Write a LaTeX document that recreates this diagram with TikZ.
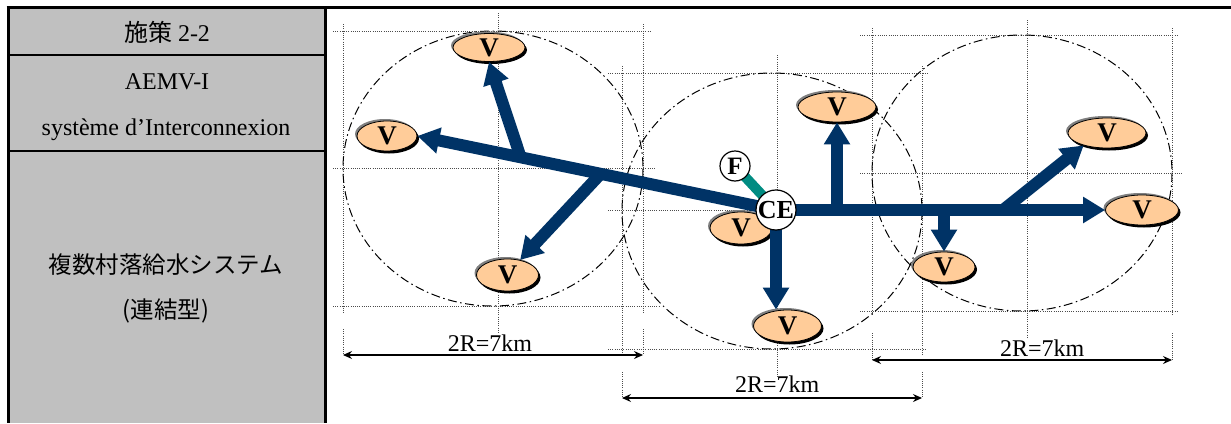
\documentclass[tikz,border=0pt]{standalone}
\usepackage{fontspec}
\setmainfont{Liberation Serif}
\newfontfamily\jpfont{Noto Sans CJK JP}
\usetikzlibrary{arrows.meta,shapes.geometric,shadows,calc}
\definecolor{pipeblue}{RGB}{0,51,102}
\definecolor{fteal}{RGB}{0,140,130}
\definecolor{vfill}{RGB}{255,204,153}
\definecolor{cellgray}{RGB}{192,192,192}
\pgfdeclarelayer{bg}
\pgfdeclarelayer{pipes}
\pgfdeclarelayer{top}
\pgfsetlayers{bg,main,pipes,top}
\begin{document}
\begin{tikzpicture}[x=1pt,y=-1pt,
  lbl/.style={inner sep=0pt, font=\fontsize{24}{28}\selectfont},
  jlbl/.style={inner sep=0pt, font=\jpfont\fontsize{23.5}{28}\selectfont},
  vnode/.style={ellipse, draw=black, line width=0.8pt, fill=vfill, inner sep=0pt,
     minimum height=30pt, font=\bfseries\fontsize{27}{27}\selectfont,
     general shadow={fill=black!50, shadow xshift=-2pt, shadow yshift=2pt},
     general shadow={fill=black, shadow xshift=2pt, shadow yshift=-2.5pt}},
  hub/.style={circle, draw=black, line width=1.2pt, fill=white, inner sep=0pt,
     font=\bfseries\fontsize{26}{26}\selectfont},
  pipe/.style={line width=12pt, draw=pipeblue, -{Triangle[length=22pt,width=25pt]}},
  dimline/.style={line width=1.1pt, {Stealth[length=9pt,width=8pt,inset=3pt]}-{Stealth[length=9pt,width=8pt,inset=3pt]}},
  guide/.style={draw=black!70, line width=0.8pt, dash pattern=on 1pt off 1.2pt},
  rim/.style={draw=black, line width=1pt, dash pattern=on 9pt off 3.5pt on 1.5pt off 3.5pt}]
\useasboundingbox (0,0) rectangle (1231,423);

% ---- left table ----
\fill[cellgray] (8,7.5) rectangle (325,423);
\draw[line width=3pt] (6.5,7.5) -- (1231,7.5);
\draw[line width=3pt] (8,6) -- (8,423);
\draw[line width=3pt] (325,6) -- (325,423);
\draw[line width=2.5pt] (8,55) -- (325,55);
\draw[line width=2.5pt] (8,151) -- (325,151);
\node[lbl, anchor=base] (t1) at (167,41.5) {{\jpfont 施策} 2-2};
\node[lbl, anchor=base] (t2) at (167,89.5) {AEMV-I};
\node[lbl, anchor=base] (t3) at (166,135) {système d’Interconnexion};
\node[jlbl] (t4) at (166,265) {複数村落給水システム};
\node[jlbl] (t5) at (166,311) {(連結型)};

% ---- guides, circles, dimensions ----
\begin{pgfonlayer}{bg}
% circle 1
\draw[guide] (333,31) -- (650,31);
\draw[guide] (333,306) -- (660,306);
\draw[guide] (333,168) -- (655,168);
\draw[guide] (343,24) -- (343,313);
\draw[guide] (643,24) -- (643,313);
\draw[guide] (498,13) -- (498,333);
\draw[guide] (343,329) -- (343,355);
\draw[guide] (643,329) -- (643,355);
% circle 2
\draw[guide] (608,73) -- (928,73);
\draw[guide] (608,349) -- (925,349);
\draw[guide] (608,210) -- (933,210);
\draw[guide] (622,66) -- (622,355);
\draw[guide] (922,66) -- (922,355);
\draw[guide] (777,55) -- (777,377);
\draw[guide] (622,372) -- (622,398);
\draw[guide] (922,372) -- (922,398);
% circle 3
\draw[guide] (860,35) -- (1178,35);
\draw[guide] (860,311) -- (1178,311);
\draw[guide] (860,173) -- (1183,173);
\draw[guide] (872,28) -- (872,316);
\draw[guide] (1172,28) -- (1172,316);
\draw[guide] (1027,20) -- (1027,338);
\draw[guide] (872,333) -- (872,360);
\draw[guide] (1172,333) -- (1172,360);
% circles
\draw[rim] (493,168.5) ellipse [x radius=150, y radius=137.5];
\draw[rim] (772,211) ellipse [x radius=150, y radius=138];
\draw[rim] (1022,173) ellipse [x radius=150, y radius=138];
% dimensions
\coordinate (d1a) at (343,355); \coordinate (d1b) at (643,355);
\coordinate (d2a) at (622,398); \coordinate (d2b) at (922,398);
\coordinate (d3a) at (872,360); \coordinate (d3b) at (1172,360);
\draw[dimline] (d1a) -- (d1b) node[lbl, pos=0.49, above=3pt] {2R=7km};
\draw[dimline] (d2a) -- (d2b) node[lbl, pos=0.517, above=5pt] {2R=7km};
\draw[dimline] (d3a) -- (d3b) node[lbl, pos=0.567, above=3pt] {2R=7km};
\end{pgfonlayer}

% ---- hubs ----
\begin{pgfonlayer}{top}
\node[hub, minimum size=36pt] (ce) at (776,210) {CE};
\node[hub, minimum size=30pt, font=\bfseries\fontsize{25}{25}\selectfont] (f) at (735,166) {F};
\end{pgfonlayer}

% ---- villages ----
\node[vnode, minimum width=72pt, minimum height=28pt] (v1) at (489,47.5) {V};
\node[vnode, minimum width=60pt] (v2) at (387,136) {V};
\node[vnode, minimum width=62pt, minimum height=32pt] (v3) at (507.5,275) {V};
\node[vnode, minimum width=62pt, minimum height=32pt] (v4) at (741,228) {V};
\node[vnode, minimum width=78pt] (v5) at (837,107) {V};
\node[vnode, minimum width=68pt, minimum height=32pt] (v6) at (787.5,326) {V};
\node[vnode, minimum width=78pt] (v7) at (1107,133) {V};
\node[vnode, minimum width=73pt] (v8) at (1142,210) {V};
\node[vnode, minimum width=62pt] (v9) at (944,267) {V};

% ---- pipes ----
\begin{pgfonlayer}{pipes}
\draw[fteal, line width=10pt] (ce.center) -- (f.center);
\draw[pipe] (ce.center) -- (v2.east);
\coordinate (j1) at ($(ce.center)!0.712!(v2.east)$);
\coordinate (j3) at ($(ce.center)!0.489!(v2.east)$);
\draw[pipe] (j1) -- (v1.south);
\draw[pipe] (j3) -- (v3.50);
\draw[pipe] (ce.center) -- (ce.center |- v6.north);
\draw[pipe] (ce.center) -- (v8.west);
\draw[pipe] (v5.south |- ce.center) -- (v5.south);
\draw[pipe] (v9.north |- ce.center) -- (v9.north);
\coordinate (j7) at (1003,210);
\draw[pipe] (j7) -- (v7.208);
\end{pgfonlayer}
\end{tikzpicture}
\end{document}
